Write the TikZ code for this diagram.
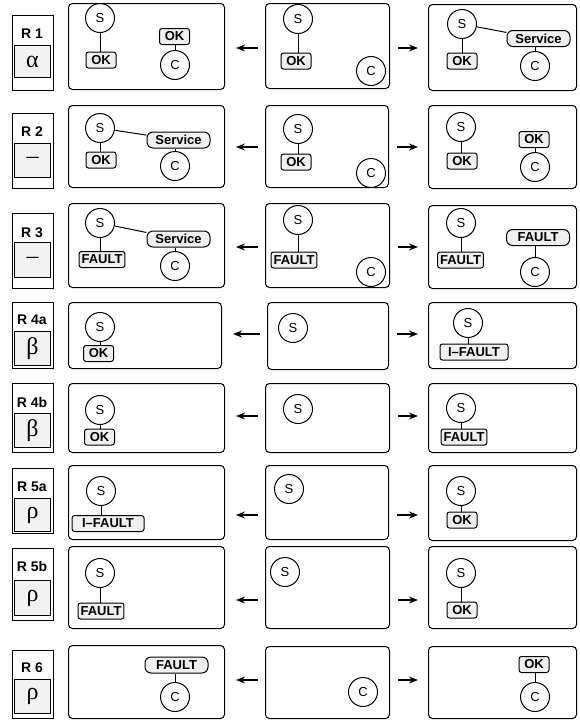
\documentclass[tikz,border=0pt]{standalone}
\usepackage{fontspec}
\setmainfont{Liberation Sans}
\newfontfamily\greekfont{Liberation Serif}
\usetikzlibrary{arrows.meta}

\tikzset{
  panel/.style 2 args={draw, rounded corners=4pt, minimum width=#1, minimum height=#2, anchor=north west, inner sep=0pt},
  rulebox/.style={draw, minimum width=41pt, minimum height=#1, anchor=north west, inner sep=0pt},
  symbox/.style={draw, fill=gray!10, minimum width=36pt, minimum height=#1, anchor=north west, inner sep=0pt, font=\greekfont\fontsize{24}{24}\selectfont},
  rulename/.style={font=\bfseries\fontsize{14}{14}\selectfont},
  state/.style={circle, draw, minimum size=29pt, inner sep=0pt, font=\fontsize{13}{13}\selectfont},
  status/.style={draw, fill=gray!12, rounded corners=2.5pt, minimum width=30pt, minimum height=16pt, inner xsep=2.5pt, inner ysep=0pt, font=\bfseries\fontsize{13}{13}\selectfont},
  pill/.style={status, rounded corners=6pt, minimum width=63pt},
  larr/.style={-{Stealth[length=9pt,width=7pt,inset=3pt]}, line width=1.2pt, shorten <=7pt, shorten >=11pt},
  rarr/.style={-{Stealth[length=9pt,width=7pt,inset=3pt]}, line width=1.2pt, shorten <=8pt, shorten >=10pt},
}

\begin{document}
\begin{tikzpicture}[x=1pt, y=-1pt, line width=1pt]
\useasboundingbox (0,0) rectangle (580,720);

% R 1
\node[rulebox=75pt] (l1) at (12,15) {};
\node[symbox=32pt] (g1) at (14,45) {α};
\node[rulename] (n1) at (32,34) {R 1};
\node[panel={156pt}{86pt}] (a1) at (68,3) {};
\node[state] (s1a) at (100,18) {S};
\node[status] (ok1a) at (101,60) {OK};
\node[status] (okc1a) at (174.5,36.5) {OK};
\node[state] (c1a) at (175,65) {C};
\draw (s1a) -- (s1a |- ok1a.north);
\draw (c1a) -- (c1a |- okc1a.south);
\node[panel={124pt}{85pt}] (b1) at (265,3) {};
\node[state] (s1b) at (298,19) {S};
\node[status] (ok1b) at (296,61) {OK};
\node[state] (c1b) at (371,71) {C};
\draw (s1b) -- (s1b |- ok1b.north);
\node[panel={148pt}{86pt}] (c1) at (428,4) {};
\node[state] (s1c) at (462,24) {S};
\node[status] (ok1c) at (462,61) {OK};
\node[pill] (svc1c) at (538.5,38.5) {Service};
\node[state] (c1c) at (535,66) {C};
\draw (s1c) -- (s1c |- ok1c.north);
\draw (s1c) -- (svc1c);
\draw (c1c) -- (c1c |- svc1c.south);
\coordinate (m1) at (0,48);
\draw[larr] (b1.west |- m1) -- (a1.east |- m1);
\draw[rarr] (b1.east |- m1) -- (c1.west |- m1);

% R 2
\node[rulebox=75pt] (l2) at (12,113) {};
\node[symbox=34pt] (g2) at (14,143) {–};
\node[rulename] (n2) at (32,132) {R 2};
\node[panel={156pt}{82pt}] (a2) at (68,105) {};
\node[state] (s2a) at (100,128) {S};
\node[status] (ok2a) at (101,160) {OK};
\node[pill] (svc2a) at (178.5,140) {Service};
\node[state] (c2a) at (175,166) {C};
\draw (s2a) -- (s2a |- ok2a.north);
\draw (s2a) -- (svc2a);
\draw (c2a) -- (c2a |- svc2a.south);
\node[panel={123pt}{82pt}] (b2) at (265,105) {};
\node[state] (s2b) at (298,129) {S};
\node[status] (ok2b) at (296,162) {OK};
\node[state] (c2b) at (371,173) {C};
\draw (s2b) -- (s2b |- ok2b.north);
\node[panel={148pt}{83pt}] (c2) at (428,105) {};
\node[state] (s2c) at (461,127) {S};
\node[status] (ok2c) at (462,161) {OK};
\node[status] (okc2c) at (534,139.5) {OK};
\node[state] (c2c) at (535,167) {C};
\draw (s2c) -- (s2c |- ok2c.north);
\draw (c2c) -- (c2c |- okc2c.south);
\coordinate (m2) at (0,147);
\draw[larr] (b2.west |- m2) -- (a2.east |- m2);
\draw[rarr] (b2.east |- m2) -- (c2.west |- m2);

% R 3
\node[rulebox=75pt] (l3) at (12,213) {};
\node[symbox=35pt] (g3) at (14,242) {–};
\node[rulename] (n3) at (32,233) {R 3};
\node[panel={156pt}{84pt}] (a3) at (68,203) {};
\node[state] (s3a) at (100,223) {S};
\node[status] (f3a) at (102,259.5) {FAULT};
\node[pill] (svc3a) at (178.5,239) {Service};
\node[state] (c3a) at (175,266) {C};
\draw (s3a) -- (s3a |- f3a.north);
\draw (s3a) -- (svc3a);
\draw (c3a) -- (c3a |- svc3a.south);
\node[panel={124pt}{84pt}] (b3) at (265,203) {};
\node[state] (s3b) at (298,220) {S};
\node[status] (f3b) at (294,260) {FAULT};
\node[state] (c3b) at (371,272) {C};
\draw (s3b) -- (s3b |- f3b.north);
\node[panel={148pt}{83pt}] (c3) at (428,205) {};
\node[state] (s3c) at (461,223) {S};
\node[status] (f3c) at (460.5,260) {FAULT};
\node[pill] (fc3c) at (538,237.5) {FAULT};
\node[state] (c3c) at (535,272) {C};
\draw (s3c) -- (s3c |- f3c.north);
\draw (c3c) -- (c3c |- fc3c.south);
\coordinate (m3) at (0,247);
\draw[larr] (b3.west |- m3) -- (a3.east |- m3);
\draw[rarr] (b3.east |- m3) -- (c3.west |- m3);

% R 4a
\node[rulebox=66pt] (l4) at (12,302) {};
\node[symbox=34pt] (g4) at (14,331) {β};
\node[rulename] (n4) at (32,320) {R 4a};
\node[panel={153pt}{66pt}] (a4) at (68,302) {};
\node[state] (s4a) at (100,327) {S};
\node[status] (ok4a) at (98.5,353.5) {OK};
\draw (s4a) -- (s4a |- ok4a.north);
\node[panel={121pt}{67pt}] (b4) at (267,302) {};
\node[state] (s4b) at (293,328) {S};
\node[panel={148pt}{66pt}] (c4) at (428,302) {};
\node[state] (s4c) at (468,323) {S};
\node[status, minimum width=68pt] (if4c) at (474,352) {I–FAULT};
\draw (s4c) -- (s4c |- if4c.north);
\coordinate (m4) at (0,334);
\draw[larr] (b4.west |- m4) -- (a4.east |- m4);
\draw[rarr] (b4.east |- m4) -- (c4.west |- m4);

% R 4b
\node[rulebox=69pt] (l5) at (12,383) {};
\node[symbox=34pt] (g5) at (14,413) {β};
\node[rulename] (n5) at (32,402) {R 4b};
\node[panel={156pt}{69pt}] (a5) at (68,383) {};
\node[state] (s5a) at (100,410) {S};
\node[status] (ok5a) at (99.5,437) {OK};
\draw (s5a) -- (s5a |- ok5a.north);
\node[panel={124pt}{69pt}] (b5) at (265,383) {};
\node[state] (s5b) at (298,409) {S};
\node[panel={148pt}{69pt}] (c5) at (428,383) {};
\node[state] (s5c) at (461,408) {S};
\node[status] (f5c) at (464,437) {FAULT};
\draw (s5c) -- (s5c |- f5c.north);
\coordinate (m5) at (0,416);
\draw[larr] (b5.west |- m5) -- (a5.east |- m5);
\draw[rarr] (b5.east |- m5) -- (c5.west |- m5);

% R 5a
\node[rulebox=65pt] (l6) at (12,468) {};
\node[symbox=33pt] (g6) at (14,498) {ρ};
\node[rulename] (n6) at (32,487) {R 5a};
\node[panel={156pt}{74pt}] (a6) at (68,465) {};
\node[state] (s6a) at (101,491) {S};
\node[status, minimum width=72pt] (if6a) at (108,523.5) {I–FAULT};
\draw (s6a) -- (s6a |- if6a.north);
\node[panel={123pt}{74pt}] (b6) at (265,465) {};
\node[state] (s6b) at (289,489) {S};
\node[panel={148pt}{75pt}] (c6) at (428,465) {};
\node[state] (s6c) at (461,491) {S};
\node[status] (ok6c) at (462,520) {OK};
\draw (s6c) -- (s6c |- ok6c.north);
\coordinate (m6) at (0,515);
\draw[larr] (b6.west |- m6) -- (a6.east |- m6);
\draw[rarr] (b6.east |- m6) -- (c6.west |- m6);

% R 5b
\node[rulebox=72pt] (l7) at (12,548) {};
\node[symbox=35pt] (g7) at (14,580) {ρ};
\node[rulename] (n7) at (32,566) {R 5b};
\node[panel={156pt}{82pt}] (a7) at (68,546) {};
\node[state] (s7a) at (100,573) {S};
\node[status] (f7a) at (101,611) {FAULT};
\draw (s7a) -- (s7a |- f7a.north);
\node[panel={124pt}{82pt}] (b7) at (265,546) {};
\node[state] (s7b) at (285,572) {S};
\node[panel={148pt}{82pt}] (c7) at (428,546) {};
\node[state] (s7c) at (461,573) {S};
\node[status] (ok7c) at (462,610) {OK};
\draw (s7c) -- (s7c |- ok7c.north);
\coordinate (m7) at (0,600);
\draw[larr] (b7.west |- m7) -- (a7.east |- m7);
\draw[rarr] (b7.east |- m7) -- (c7.west |- m7);

% R 6
\node[rulebox=68pt] (l8) at (12,650) {};
\node[symbox=34pt] (g8) at (14,679) {ρ};
\node[rulename] (n8) at (32,668) {R 6};
\node[panel={156pt}{73pt}] (a8) at (68,645) {};
\node[pill] (fc8a) at (176.5,665) {FAULT};
\node[state] (c8a) at (175,697) {C};
\draw (c8a) -- (c8a |- fc8a.south);
\node[panel={124pt}{72pt}] (b8) at (265,646) {};
\node[state] (c8b) at (363,692) {C};
\node[panel={148pt}{72pt}] (c8) at (428,646) {};
\node[status] (okc8c) at (534,664.5) {OK};
\node[state] (c8c) at (535,697) {C};
\draw (c8c) -- (c8c |- okc8c.south);
\coordinate (m8) at (0,680);
\draw[larr] (b8.west |- m8) -- (a8.east |- m8);
\draw[rarr] (b8.east |- m8) -- (c8.west |- m8);
\end{tikzpicture}
\end{document}
